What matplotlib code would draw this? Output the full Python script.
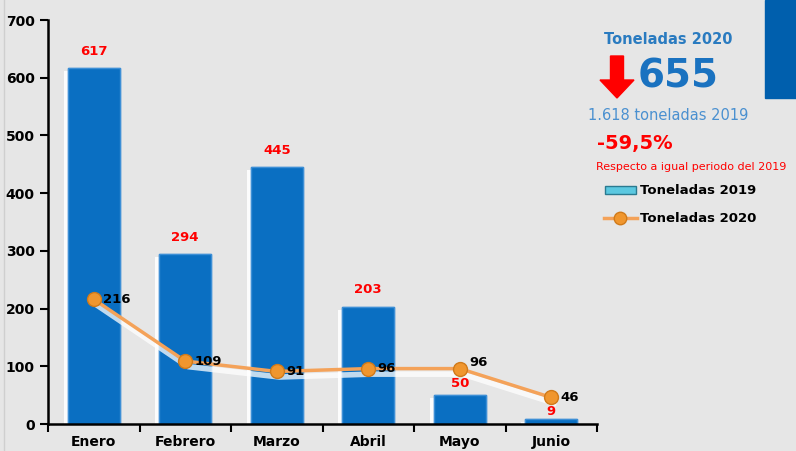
import matplotlib.pyplot as plt
import matplotlib.patheffects as pe
from matplotlib.patches import FancyArrow, Rectangle
from matplotlib.lines import Line2D

meses = ["Enero", "Febrero", "Marzo", "Abril", "Mayo", "Junio"]
ton_2019 = [617, 294, 445, 203, 50, 9]
ton_2020 = [216, 109, 91, 96, 96, 46]

bg = "#e6e6e6"
azul = "#0a6fc2"
naranja = "#f4a259"

fig = plt.figure(figsize=(7.96, 4.51), dpi=100, facecolor=bg)
ax = fig.add_axes([48 / 796, 27 / 451, 549 / 796, 404 / 451], facecolor=bg)

x = range(len(meses))
ax.bar(x, ton_2019, width=0.57, color=azul, edgecolor="#3d8fd6", linewidth=1,
       path_effects=[pe.withSimplePatchShadow(offset=(-3, -2), shadow_rgbFace="white", alpha=0.9), pe.Normal()],
       zorder=2)
# linea con sombra blanca suave, luego los marcadores encima
ax.plot(x, ton_2020, color=naranja, lw=2.5,
        path_effects=[pe.SimpleLineShadow(offset=(2, -4), shadow_color="white", alpha=0.75, linewidth=4),
                      pe.Normal()], zorder=3)
ax.plot(x, ton_2020, lw=0, marker="o", ms=10,
        markerfacecolor="#f0962e", markeredgecolor="#d07a1a", zorder=3)

# desplazamiento de las etiquetas rojas (como en el original)
off = [18, 18, 18, 18, 9, 2]
for i, v in enumerate(ton_2019):
    ax.text(i, v + off[i], str(v), color="red", ha="center", va="bottom", fontsize=9.5, fontweight="bold")
for i, v in enumerate(ton_2020):
    ax.text(i + 0.1, v + (10 if i == 4 else 0), str(v), color="black", ha="left", va="center",
            fontsize=9.5, fontweight="bold", zorder=4)

ax.set_xlim(-0.5, 5.5)
ax.set_ylim(0, 700)
ax.set_yticks(range(0, 701, 100))
ax.set_xticks(x)
ax.set_xticklabels(meses, fontweight="bold", fontsize=10)
ax.set_xticks([i + 0.5 for i in range(-1, 6)], minor=True)
ax.tick_params(axis="x", which="major", length=0, pad=8)
ax.tick_params(axis="x", which="minor", length=6, width=1.5, direction="out")
ax.tick_params(axis="y", length=6, width=1.5, labelsize=10)
for lbl in ax.get_yticklabels():
    lbl.set_fontweight("bold")
for s in ["top", "right"]:
    ax.spines[s].set_visible(False)
for s in ["left", "bottom"]:
    ax.spines[s].set_linewidth(1.8)

# borde izquierdo
fig.lines.append(Line2D([4 / 796, 4 / 796], [0, 1], transform=fig.transFigure, color="#cfcfcf", lw=1))

# panel derecho
fig.patches.append(Rectangle((765 / 796, 353 / 451), 31 / 796, 98 / 451,
                             transform=fig.transFigure, color="#005fad", zorder=0))
fig.text(668 / 796, 1 - 39 / 451, "Toneladas 2020", color="#2a7bc0", ha="center", va="center",
         fontsize=10.5, fontweight="bold")
fig.patches.append(FancyArrow(617 / 796, 1 - 56 / 451, 0, -42 / 451, width=13 / 796,
                              head_width=34 / 796, head_length=18 / 451,
                              length_includes_head=True, transform=fig.transFigure, color="red"))
fig.text(678 / 796, 1 - 77 / 451, "655", color="#1a72c0", ha="center", va="center",
         fontsize=28, fontweight="bold")
fig.text(668 / 796, 1 - 115 / 451, "1.618 toneladas 2019", color="#4a90d0", ha="center", va="center",
         fontsize=10.5)
fig.text(597 / 796, 1 - 144 / 451, "-59,5%", color="red", ha="left", va="center",
         fontsize=14, fontweight="bold")
fig.text(596 / 796, 1 - 167 / 451, "Respecto a igual periodo del 2019", color="red", ha="left",
         va="center", fontsize=8)

fig.patches.append(Rectangle((605 / 796, 1 - 194 / 451), 31 / 796, 8 / 451,
                             transform=fig.transFigure, facecolor="#5bc8e0", edgecolor="#2a7a90"))
fig.text(640 / 796, 1 - 190 / 451, "Toneladas 2019", color="black", ha="left", va="center",
         fontsize=9.5, fontweight="bold")
fig.lines.append(Line2D([604 / 796, 637 / 796], [1 - 218 / 451, 1 - 218 / 451], transform=fig.transFigure,
                        color=naranja, lw=2.5))
fig.lines.append(Line2D([620 / 796], [1 - 218 / 451], transform=fig.transFigure, marker="o", ms=9,
                        markerfacecolor="#f0962e", markeredgecolor="#d07a1a", lw=0))
fig.text(640 / 796, 1 - 218 / 451, "Toneladas 2020", color="black", ha="left", va="center",
         fontsize=9.5, fontweight="bold")

fig.savefig("out.png", dpi=100, facecolor=bg)
